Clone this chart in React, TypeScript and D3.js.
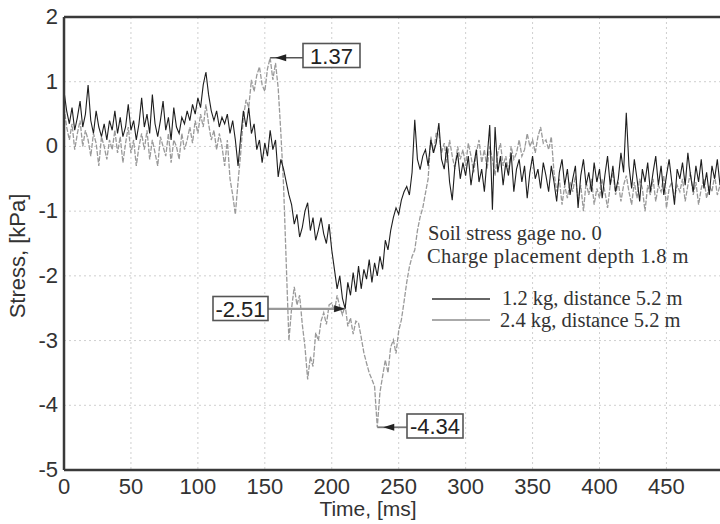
import React from "react";
import * as d3 from "d3";

// sampling interval of the gauge records (ms)
const SAMPLE_MS = 2;

// Soil stress, 1.2 kg charge, distance 5.2 m  (kPa, every 2 ms from 0 ms)
const stress12kg: number[] = [
  0.85, 0.55, 0.35, 0.6, 0.25, 0.45, 0.7, 0.3, 0.5, 0.95,
  0.4, 0.2, 0.55, 0.3, 0.15, 0.35, 0.1, 0.4, 0.25, 0.55,
  0.2, 0.45, 0.15, 0.3, 0.65, 0.25, 0.4, 0.1, 0.35, 0.75,
  0.3, 0.5, 0.2, 0.8, 0.35, 0.15, 0.4, 0.7, 0.25, 0.45,
  0.1, 0.6, 0.3, 0.2, 0.45, 0.35, 0.55, 0.4, 0.65, 0.5,
  0.75, 0.6, 0.95, 1.15, 0.8, 0.55, 0.4, 0.55, 0.3, 0.45,
  0.35, 0.5, 0.2, 0.4, 0.1, -0.3, 0.15, 0.55, 0.3, 0.6,
  0.2, 0.35, -0.05, 0.1, -0.25, 0.05, -0.15, 0.25, -0.05, 0.1,
  -0.47, -0.2, -0.35, -0.55, -0.75, -0.9, -1.2, -1.05, -1.4, -1.25,
  -1.0, -0.87, -1.3, -1.1, -1.45, -1.29, -1.1, -1.35, -1.5, -1.2,
  -1.6, -1.9, -2.2, -2.0, -2.35, -2.51, -2.1, -2.3, -1.95, -2.25,
  -1.85, -2.2, -1.9, -2.05, -1.75, -2.1, -1.8, -2.0, -1.7, -1.9,
  -1.45, -1.6, -1.3, -1.1, -0.95, -1.05, -0.83, -0.7, -0.62, -0.75,
  -0.4, 0.41, -0.2, -0.36, -0.15, -0.05, -0.3, 0.1, -0.1, 0.05,
  0.36, -0.2, -0.35, 0.0, -0.55, -0.83, -0.3, -0.1, -0.5, -0.25,
  -0.45, -0.15, -0.6, -0.3, -0.05, -0.55, -0.35, -0.7, -0.2, 0.33,
  -0.98, 0.3, -0.4, -0.15, -0.6, -0.25, -0.45, -0.1, -0.7, -0.35,
  -0.2, -0.55, -0.3, -0.8, -0.4, -0.15, -0.5, -0.35, -0.65, -0.25,
  -0.45, -0.7, -0.3, -0.55, -0.85, -0.4, -0.2, -0.6, -0.35, -0.75,
  -0.5, -0.3, -0.95, -0.45, -0.2, -0.6, -0.4, -0.7, -0.25, -0.55,
  -0.35, -0.8, -0.45, -0.15, -0.6, -0.3, -0.7, -0.5, -0.1, -0.4,
  0.52, -0.3, -0.65, -0.2, -0.5, -0.85, -0.35, -0.55, -0.25, -0.7,
  -0.4, -0.15, -0.6, -0.3, -0.75, -0.45, -0.2, -0.55, -0.9, -0.35,
  -0.5, -0.25, -0.6, -0.1, -0.45, -0.7, -0.3, -0.55, -0.2, -0.65,
  -0.4, -0.75, -0.3, -0.5, -0.2, -0.6,
];

// Soil stress, 2.4 kg charge, distance 5.2 m  (kPa, every 2 ms from 0 ms)
const stress24kg: number[] = [
  0.6, 0.3, 0.1, 0.35, -0.05, 0.2, 0.4, 0.0, 0.25, 0.1,
  -0.15, 0.2, 0.05, -0.3, 0.15, 0.0, -0.2, 0.1, -0.05, 0.25,
  -0.1, 0.15, -0.25, 0.05, 0.3, -0.1, 0.1, -0.3, 0.0, 0.2,
  -0.05, 0.25, -0.2, 0.1, -0.1, -0.3, 0.15, 0.0, -0.15, 0.2,
  -0.25, 0.1, 0.0, -0.2, 0.2, -0.05, 0.1, 0.3, 0.05, 0.4,
  0.2, 0.5, 0.3, 0.65, 0.35, 0.1, 0.25, -0.05, 0.2, 0.0,
  -0.3, 0.1, -0.5, -0.75, -1.05, -0.55, -0.1, 0.45, 0.72, 0.6,
  1.03, 0.85, 1.1, 1.23, 0.95, 0.85, 1.2, 1.37, 1.03, 1.29,
  0.9, 0.2, -0.6, -1.8, -3.0, -2.5, -2.17, -2.45, -2.3, -2.75,
  -3.1, -3.6, -3.25, -3.4, -2.88, -3.0, -2.7, -2.57, -2.75, -2.45,
  -2.42, -2.55, -2.3, -2.48, -2.6, -2.45, -2.78, -2.65, -2.9, -2.7,
  -2.73, -2.95, -3.19, -3.35, -3.5, -3.6, -3.71, -4.34, -3.8, -3.55,
  -3.3, -3.5, -3.1, -2.99, -3.2, -2.85, -2.68, -2.4, -2.1, -1.86,
  -1.7, -1.6, -1.3, -1.09, -0.95, -0.72, -0.5, 0.15, -0.1, 0.2,
  0.2, -0.1, 0.05, -0.25, 0.1, -0.15, -0.35, 0.0, -0.2, -0.05,
  -0.3, 0.05, -0.15, -0.4, -0.1, 0.1, -0.25, -0.05, -0.35, 0.0,
  -0.2, -0.45, -0.1, 0.05, -0.3, -0.15, -0.4, 0.0, -0.2, -0.1,
  0.1, -0.15, -0.05, 0.2, 0.0, 0.1, -0.1, 0.15, 0.3, 0.05,
  0.1, -0.05, 0.15, -0.4, -0.7, -0.5, -0.9, -0.6, -0.8, -0.55,
  -0.7, -0.45, -0.85, -0.6, -1.0, -0.55, -0.75, -0.5, -0.9, -0.65,
  -0.8, -0.5, -0.7, -0.95, -0.6, -0.4, -0.75, -0.55, -0.85, -0.6,
  -0.45, -0.7, -0.9, -0.55, -0.8, -0.5, -0.65, -1.0, -0.6, -0.75,
  -0.5, -0.85, -0.6, -0.7, -0.45, -0.95, -0.65, -0.55, -0.8, -0.6,
  -0.7, -0.5, -0.85, -0.6, -0.4, -0.75, -0.55, -0.9, -0.65, -0.5,
  -0.8, -0.6, -0.7, -0.45, -0.75, -0.6,
];

const xTicks: number[] = [0, 50, 100, 150, 200, 250, 300, 350, 400, 450];
const yTicks: number[] = [-5, -4, -3, -2, -1, 0, 1, 2];

const seriesLabels: string[] = ["1.2 kg, distance 5.2 m", "2.4 kg, distance 5.2 m"];
const legendTitle: string[] = ["Soil stress gage no. 0", "Charge placement depth 1.8 m"];

// annotated extremes: [time ms, value kPa]
const peak24: [number, number] = [154, 1.37];
const min12: [number, number] = [210, -2.51];
const min24: [number, number] = [234, -4.34];

const W = 720;
const H = 524;
const M = { left: 64, top: 17, right: 720, bottom: 470 };

const SANS = "'Liberation Sans', Arial, Helvetica, sans-serif";
const SERIF = "'Liberation Serif', 'Times New Roman', Times, serif";

export default function App() {
  const x = d3.scaleLinear().domain([0, 490]).range([M.left, M.right]);
  const y = d3.scaleLinear().domain([-5, 2]).range([M.bottom, M.top]);

  const line = d3
    .line<number>()
    .x((_, i) => x(i * SAMPLE_MS))
    .y((d) => y(d));

  const dark = "#1e1e1e";
  const gray = "#9a9a9a";

  const arrowLeft = (tx: number, ty: number) =>
    `M${tx},${ty} L${tx + 11},${ty - 3.5} L${tx + 11},${ty + 3.5} Z`;
  const arrowRight = (tx: number, ty: number) =>
    `M${tx},${ty} L${tx - 11},${ty - 3.5} L${tx - 11},${ty + 3.5} Z`;

  const pk = { x: x(peak24[0]), y: y(peak24[1]) };
  const m12 = { x: x(min12[0]), y: y(min12[1]) };
  const m24 = { x: x(min24[0]), y: y(min24[1]) };

  const box = (cx: number, cy: number, w: number, label: string) => (
    <g>
      <rect x={cx - w / 2} y={cy - 12} width={w} height={24} fill="#fff" stroke="#555" strokeWidth={1.6} />
      <text x={cx} y={cy + 8} textAnchor="middle" fontFamily={SANS} fontSize={22} fill="#222">
        {label}
      </text>
    </g>
  );

  return (
    <svg
      width={W}
      height={H}
      style={{ position: "absolute", left: 0, top: 0, background: "#fff" }}
      xmlns="http://www.w3.org/2000/svg"
    >
      <rect x={0} y={0} width={W} height={H} fill="#fff" />
      {/* grid */}
      {xTicks.filter((t) => t > 0).map((t) => (
        <line key={"gx" + t} x1={x(t)} x2={x(t)} y1={M.top} y2={M.bottom} stroke="#cfcfcf" strokeWidth={1} strokeDasharray="2,3" />
      ))}
      {yTicks.filter((t) => t > -5 && t < 2).map((t) => (
        <line key={"gy" + t} x1={M.left} x2={M.right} y1={y(t)} y2={y(t)} stroke="#cfcfcf" strokeWidth={1} strokeDasharray="2,3" />
      ))}

      {/* traces */}
      <path d={line(stress24kg) || ""} fill="none" stroke={gray} strokeWidth={1.3} strokeDasharray="5,1.5" />
      <path d={line(stress12kg) || ""} fill="none" stroke={dark} strokeWidth={1.1} />

      {/* axes frame */}
      <line x1={M.left} x2={M.right} y1={M.top} y2={M.top} stroke="#3a3a3a" strokeWidth={2.5} />
      <line x1={M.left} x2={M.right} y1={M.bottom} y2={M.bottom} stroke="#3a3a3a" strokeWidth={2.5} />
      <line x1={M.left} x2={M.left} y1={M.top} y2={M.bottom} stroke="#3a3a3a" strokeWidth={2.5} />

      {/* tick labels */}
      {yTicks.map((t) => (
        <text key={"ty" + t} x={M.left - 6} y={y(t) + 7} textAnchor="end" fontFamily={SANS} fontSize={22} fill="#333">
          {t}
        </text>
      ))}
      {xTicks.map((t) => (
        <text key={"tx" + t} x={x(t)} y={M.bottom + 24} textAnchor="middle" fontFamily={SANS} fontSize={22} fill="#333">
          {t}
        </text>
      ))}

      {/* axis titles */}
      <text x={368} y={516} textAnchor="middle" fontFamily={SANS} fontSize={21} fill="#333">
        Time, [ms]
      </text>
      <text
        transform={`translate(25,256) rotate(-90)`}
        textAnchor="middle"
        fontFamily={SANS}
        fontSize={22}
        fill="#333"
      >
        Stress, [kPa]
      </text>

      {/* annotations */}
      <line x1={pk.x} x2={303} y1={pk.y} y2={pk.y} stroke="#555" strokeWidth={1.5} />
      <path d={arrowLeft(pk.x + 5, pk.y)} fill="#222" />
      {box(331.5, 55.5, 57, "1.37")}

      <line x1={268} x2={m12.x} y1={m12.y} y2={m12.y} stroke="#999" strokeWidth={2.2} />
      <path d={arrowRight(m12.x, m12.y)} fill="#222" />
      {box(240.5, 308.5, 55, "-2.51")}

      <line x1={m24.x} x2={407} y1={m24.y} y2={m24.y} stroke="#777" strokeWidth={1.8} />
      <path d={arrowLeft(m24.x + 6, m24.y)} fill="#222" />
      {box(435, 426, 56, "-4.34")}

      {/* legend */}
      <text x={428} y={240} fontFamily={SERIF} fontSize={20.5} fill="#333">
        {legendTitle[0]}
      </text>
      <text x={427} y={263} fontFamily={SERIF} fontSize={20.5} fill="#333" letterSpacing={0.4}>
        {legendTitle[1]}
      </text>
      <line x1={432} x2={490} y1={299} y2={299} stroke="#333" strokeWidth={1.6} />
      <text x={502} y={305} fontFamily={SERIF} fontSize={20.5} fill="#333">
        {seriesLabels[0]}
      </text>
      <line x1={432} x2={490} y1={320} y2={320} stroke="#aaa" strokeWidth={2.2} />
      <text x={500} y={327} fontFamily={SERIF} fontSize={20.5} fill="#333">
        {seriesLabels[1]}
      </text>
    </svg>
  );
}
